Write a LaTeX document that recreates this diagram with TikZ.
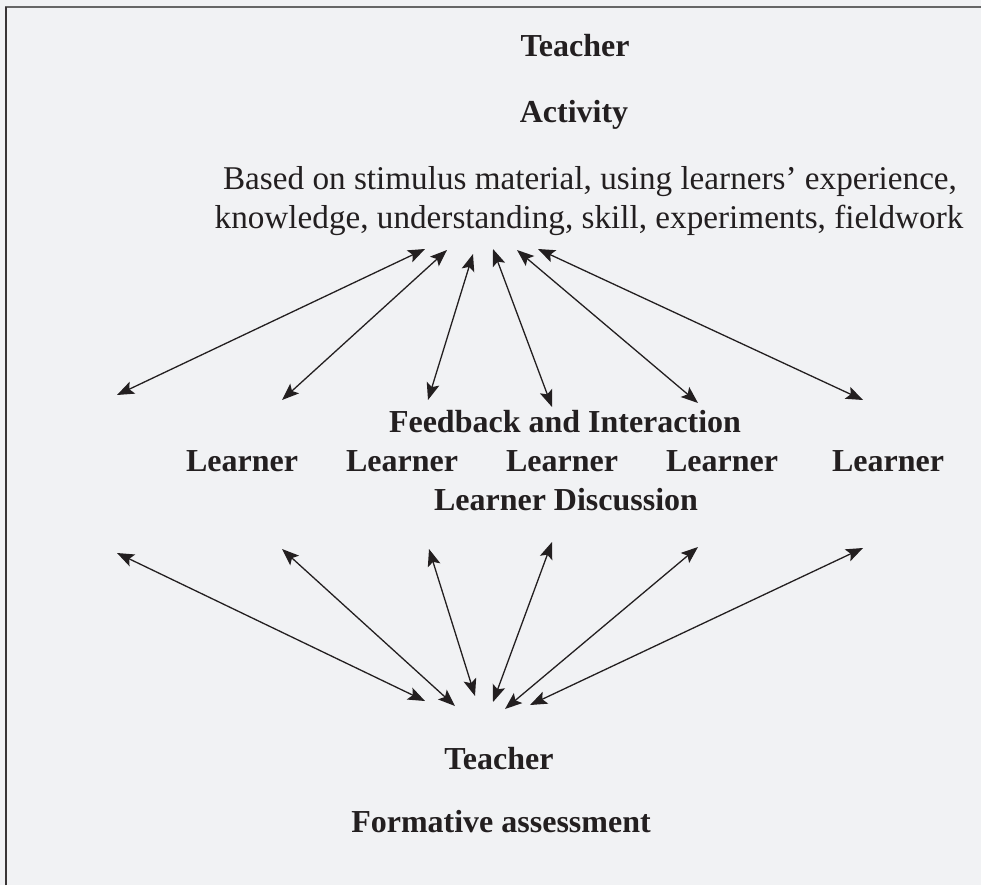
\documentclass[tikz,border=0pt]{standalone}
\usepackage{fontspec}
\setmainfont{Liberation Serif}
\usetikzlibrary{arrows.meta}
\definecolor{bgc}{HTML}{F1F2F4}
\definecolor{ink}{HTML}{231F20}
\tikzset{
  lbl/.style={font=\fontsize{32}{38}\selectfont\bfseries, text=ink, inner sep=0pt, anchor=base},
  txt/.style={font=\fontsize{33.2}{40}\selectfont, text=ink, inner sep=0pt, anchor=base},
  dbl/.style={draw=ink, line width=1.3pt, {Stealth[length=17pt,width=13pt,inset=3.5pt]}-{Stealth[length=17pt,width=13pt,inset=3.5pt]}}
}
\begin{document}
\begin{tikzpicture}[x=1pt,y=-1pt]
\useasboundingbox (0,0) rectangle (981,885);
\fill[bgc] (0,0) rectangle (981,885);
\draw[line width=1.5pt, draw=gray!80!black] (6,885) -- (6,7) -- (981,7);
\draw[line width=1.5pt, draw=ink!90] (6,885) -- (6,7);
% texts
\node[lbl] (t1) at (575,57) {Teacher};
\node[lbl] (act) at (574,123) {Activity};
\node[txt] (b1) at (590,190) {Based on stimulus material, using learners’ experience,};
\node[txt] (b2) at (589,229) {knowledge, understanding, skill, experiments, fieldwork};
\node[lbl] (fb) at (565,432) {Feedback and Interaction};
\node[lbl] (l1) at (242,471) {Learner};
\node[lbl] (l2) at (402,471) {Learner};
\node[lbl] (l3) at (562,471) {Learner};
\node[lbl] (l4) at (722,471) {Learner};
\node[lbl] (l5) at (888,471) {Learner};
\node[lbl] (ld) at (566,510) {Learner Discussion};
\node[lbl] (t2) at (499,769) {Teacher};
\node[lbl] (fa) at (501,832) {Formative assessment};
% top arrow endpoints
\coordinate (a1t) at (425,249); \coordinate (a1b) at (117,395);
\coordinate (a2t) at (447,250); \coordinate (a2b) at (282,400);
\coordinate (a3t) at (473,254); \coordinate (a3b) at (428,400);
\coordinate (a4t) at (493,249); \coordinate (a4b) at (552,407);
\coordinate (a5t) at (517,250); \coordinate (a5b) at (698,403);
\coordinate (a6t) at (538,249); \coordinate (a6b) at (863,400);
\foreach \i in {1,...,6} \draw[dbl] (a\i t) -- (a\i b);
% bottom arrow endpoints
\coordinate (c1t) at (117,553); \coordinate (c1b) at (425,701);
\coordinate (c2t) at (282,549); \coordinate (c2b) at (455,706);
\coordinate (c3t) at (429,549); \coordinate (c3b) at (475,696);
\coordinate (c4t) at (552,542); \coordinate (c4b) at (493,702);
\coordinate (c5t) at (698,547); \coordinate (c5b) at (505,709);
\coordinate (c6t) at (863,548); \coordinate (c6b) at (530,705);
\foreach \i in {1,...,6} \draw[dbl] (c\i t) -- (c\i b);
\end{tikzpicture}
\end{document}
